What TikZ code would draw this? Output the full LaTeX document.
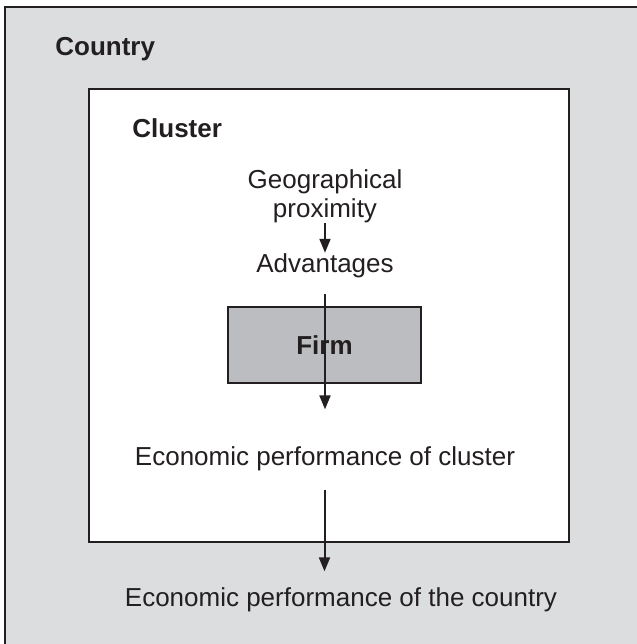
\documentclass[tikz,border=0pt]{standalone}
\usepackage{fontspec}
\setmainfont{Liberation Sans}
\usetikzlibrary{arrows.meta}
\definecolor{countrybg}{HTML}{DCDDDF}
\definecolor{firmbg}{HTML}{BCBDC0}
\definecolor{ink}{HTML}{231F20}
\begin{document}
\begin{tikzpicture}[x=0.5pt,y=-0.5pt,
  frame/.style={draw=ink,line width=1.4pt},
  lbl/.style={inner sep=0pt,text=ink,font=\fontsize{13}{15}\selectfont},
  title/.style={inner sep=0pt,text=ink,font=\fontsize{13}{15}\selectfont\bfseries},
  flow/.style={draw=ink,line width=1pt,-{Triangle[length=7pt,width=5.5pt]}}]
% page and frames
\clip (0,0) rectangle (637,644);
\fill[white] (0,0) rectangle (637,644);
\draw[frame,fill=countrybg] (5,7) rectangle (700,700);
\draw[frame,fill=white] (89,89) rectangle (569,542);
\node[frame,fill=firmbg,minimum width=96.5pt,minimum height=38pt,inner sep=0pt,
      title] (firm) at (324.5,345) {Firm};

% headings
\node[title,anchor=base west] (country) at (55,55) {Country};
\node[title,anchor=base west] (cluster) at (132,137) {Cluster};

% chain of effects
\node[lbl,anchor=base] (geo)    at (325,188) {Geographical};
\node[lbl,anchor=base] (prox)   at (325,217) {proximity};
\node[lbl,anchor=base] (adv)    at (325,272) {Advantages};
\node[lbl,anchor=base] (econcl) at (325,465) {Economic performance of cluster};
\node[lbl,anchor=base] (econco) at (341,606) {Economic performance of the country};

\draw[flow] (prox.south) -- (adv.north);
\draw[flow,shorten <=8pt,shorten >=18.2pt] (adv.south) -- (econcl.north);
\draw[flow,shorten <=9.5pt,shorten >=7.7pt] (econcl.south -| firm.center) -- (econco.north -| firm.center);
\end{tikzpicture}
\end{document}
